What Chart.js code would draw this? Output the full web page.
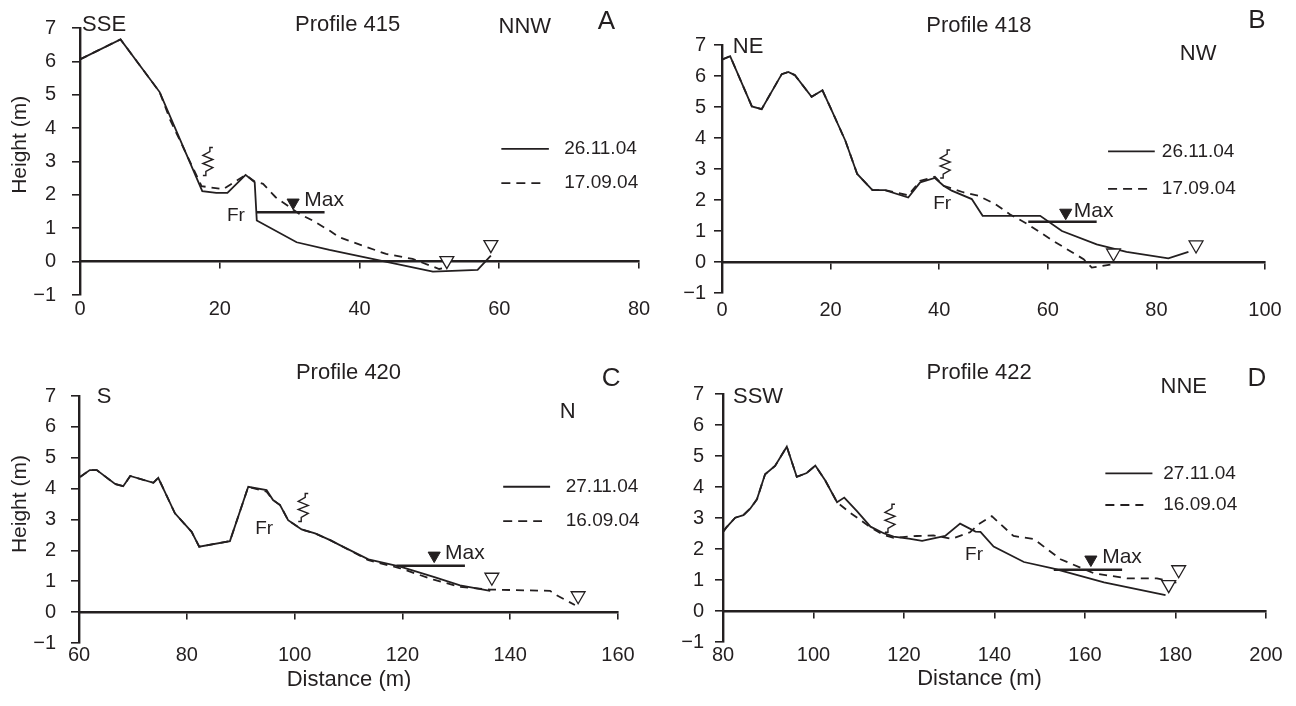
<!DOCTYPE html>
<html>
<head>
<meta charset="utf-8">
<script src="https://cdn.jsdelivr.net/npm/chart.js@4.4.1/dist/chart.umd.min.js"></script>
<style>
  body { margin: 0; background: #fff; width: 1296px; height: 706px; position: relative; overflow: hidden; }
  canvas { position: absolute; }
</style>
</head>
<body>
<canvas id="p415" width="660" height="340" style="left:0;top:0"></canvas>
<canvas id="p418" width="636" height="340" style="left:660px;top:0"></canvas>
<canvas id="p420" width="660" height="366" style="left:0;top:340px"></canvas>
<canvas id="p422" width="636" height="366" style="left:660px;top:340px"></canvas>
<script>
const INK = "#231f20";
const FONT = "'Liberation Sans', Arial, Helvetica, sans-serif";

// ---- Profile 415 ----
const p415Dates = ["26.11.04", "17.09.04"];
const p415DistNov = [0, 5.8, 11.4, 17.5, 19.5, 21.1, 23.7, 25.0, 25.3, 31.0, 35.7, 50.5, 56.9, 58.8];
const p415HNov = [6.06, 6.66, 5.08, 2.11, 2.06, 2.06, 2.60, 2.38, 1.23, 0.58, 0.35, -0.30, -0.25, 0.18];
const p415DistSep = [0, 5.8, 11.4, 12.9, 17.4, 20.5, 23.7, 25.0, 26.2, 28.0, 31.4, 33.3, 35.7, 37.1, 43.8, 47.6, 51.4, 52.6];
const p415HSep = [6.06, 6.66, 5.08, 4.25, 2.26, 2.17, 2.60, 2.40, 2.33, 1.93, 1.43, 1.23, 0.93, 0.73, 0.23, 0.08, -0.22, -0.17];
const p415MaxDist = [25.3, 35.0];
const p415MaxH = [1.48, 1.48];
const p415MaxMark = [30.5, 1.77];
const p415WaterDist = [52.5, 58.8];
const p415WaterH = [0.03, 0.51];

// ---- Profile 418 ----
const p418Dates = ["26.11.04", "17.09.04"];
const p418DistNov = [0, 1.5, 5.5, 7.3, 11.0, 12.2, 13.4, 16.5, 18.5, 20.2, 22.7, 24.9, 27.7, 30.0, 34.3, 36.5, 39.2, 40.8, 42.3, 46.0, 48.0, 58.6, 62.6, 69.0, 74.5, 82.2, 85.9];
const p418HNov = [6.53, 6.64, 5.02, 4.93, 6.06, 6.13, 6.03, 5.33, 5.54, 4.89, 3.92, 2.84, 2.32, 2.32, 2.08, 2.57, 2.71, 2.46, 2.30, 2.03, 1.49, 1.49, 1.00, 0.57, 0.33, 0.12, 0.33];
const p418DistSep = [0, 1.5, 5.5, 7.3, 11.0, 12.2, 13.4, 16.5, 18.5, 20.2, 22.7, 24.9, 27.7, 30.0, 34.3, 36.5, 39.2, 40.8, 44.4, 47.2, 50.3, 53.0, 56.1, 61.0, 66.6, 68.1, 72.1];
const p418HSep = [6.53, 6.64, 5.02, 4.93, 6.06, 6.13, 6.03, 5.33, 5.54, 4.89, 3.92, 2.84, 2.32, 2.32, 2.15, 2.62, 2.75, 2.46, 2.25, 2.14, 1.87, 1.54, 1.24, 0.68, 0.09, -0.18, -0.07];
const p418MaxDist = [56.4, 69.0];
const p418MaxH = [1.30, 1.30];
const p418MaxMark = [63.3, 1.59];
const p418WaterDist = [72.1, 87.3];
const p418WaterH = [0.29, 0.55];

// ---- Profile 420 ----
const p420Dates = ["27.11.04", "16.09.04"];
const p420DistNov = [60.2, 62.0, 63.3, 66.7, 68.2, 69.5, 73.8, 74.7, 77.8, 80.9, 82.3, 88.0, 91.4, 94.8, 96.0, 97.3, 98.8, 101.3, 103.8, 106.6, 108.4, 113.7, 119.6, 125.8, 130.7, 136.3];
const p420HNov = [4.38, 4.60, 4.60, 4.15, 4.08, 4.41, 4.19, 4.35, 3.20, 2.60, 2.12, 2.30, 4.06, 3.95, 3.63, 3.47, 2.98, 2.68, 2.55, 2.33, 2.17, 1.71, 1.47, 1.14, 0.87, 0.69];
const p420DistSep = [60.2, 62.0, 63.3, 66.7, 68.2, 69.5, 73.8, 74.7, 77.8, 80.9, 82.3, 88.0, 91.4, 94.8, 96.0, 97.3, 98.8, 101.3, 103.8, 106.6, 108.4, 113.7, 119.6, 125.8, 130.7, 136.3, 147.4, 148.6, 152.0];
const p420HSep = [4.38, 4.60, 4.60, 4.15, 4.08, 4.41, 4.19, 4.35, 3.20, 2.60, 2.12, 2.30, 4.06, 3.90, 3.63, 3.47, 2.98, 2.68, 2.55, 2.33, 2.17, 1.68, 1.42, 1.05, 0.82, 0.73, 0.69, 0.55, 0.23];
const p420MaxDist = [118.9, 131.6];
const p420MaxH = [1.50, 1.50];
const p420MaxMark = [125.9, 1.83];
const p420WaterDist = [136.6, 152.6];
const p420WaterH = [1.13, 0.53];

// ---- Profile 422 ----
const p422Dates = ["27.11.04", "16.09.04"];
const p422DistNov = [80, 80.7, 82.7, 84.5, 86.0, 87.5, 89.3, 91.5, 94.1, 96.3, 98.5, 100.4, 102.6, 105.2, 106.8, 109.6, 112.6, 115.5, 117.7, 121.4, 124.0, 129.1, 132.4, 135.8, 136.9, 139.8, 146.5, 153.1, 164.2, 177.8];
const p422HNov = [2.55, 2.69, 3.01, 3.09, 3.30, 3.60, 4.41, 4.68, 5.30, 4.33, 4.45, 4.69, 4.21, 3.51, 3.66, 3.22, 2.72, 2.51, 2.40, 2.33, 2.26, 2.42, 2.82, 2.56, 2.55, 2.08, 1.58, 1.37, 0.92, 0.51];
const p422DistSep = [80, 80.7, 82.7, 84.5, 86.0, 87.5, 89.3, 91.5, 94.1, 96.3, 98.5, 100.4, 102.6, 105.2, 108.1, 112.6, 115.5, 117.7, 122.8, 126.5, 130.6, 134.6, 136.5, 139.4, 144.2, 148.7, 154.6, 161.9, 169.3, 175.9, 180.7];
const p422HSep = [2.55, 2.69, 3.01, 3.09, 3.30, 3.60, 4.41, 4.68, 5.30, 4.33, 4.45, 4.69, 4.21, 3.51, 3.17, 2.70, 2.45, 2.36, 2.42, 2.44, 2.33, 2.54, 2.80, 3.06, 2.42, 2.32, 1.67, 1.22, 1.05, 1.05, 0.90];
const p422MaxDist = [153.1, 168.2];
const p422MaxH = [1.33, 1.33];
const p422MaxMark = [161.3, 1.66];
const p422WaterDist = [180.7, 178.5];
const p422WaterH = [1.33, 0.85];

const heightTicks = [-1, 0, 1, 2, 3, 4, 5, 6, 7];

function pts(xs, ys) {
  return xs.map((x, i) => ({ x: x, y: ys[i] }));
}

// text, legend and scarp symbol, placed in data units
const notesPlugin = {
  id: "notes",
  afterDraw(chart, args, opts) {
    const ctx = chart.ctx;
    const sx = chart.scales.x, sy = chart.scales.y;
    ctx.save();
    ctx.fillStyle = INK;
    ctx.strokeStyle = INK;
    ctx.textBaseline = "middle";
    (opts.texts || []).forEach(t => {
      ctx.font = t.size + "px " + FONT;
      ctx.textAlign = t.align || "left";
      const px = sx.getPixelForValue(t.d), py = sy.getPixelForValue(t.h);
      if (t.rotate) {
        ctx.save();
        ctx.translate(px, py);
        ctx.rotate(t.rotate * Math.PI / 180);
        ctx.fillText(t.text, 0, 0);
        ctx.restore();
      } else {
        ctx.fillText(t.text, px, py);
      }
    });
    (opts.legend || []).forEach(l => {
      const y = sy.getPixelForValue(l.h);
      ctx.lineWidth = 1.8;
      ctx.setLineDash(l.dash || []);
      ctx.beginPath();
      ctx.moveTo(sx.getPixelForValue(l.d0), y);
      ctx.lineTo(sx.getPixelForValue(l.d1), y);
      ctx.stroke();
      ctx.setLineDash([]);
      ctx.font = "19px " + FONT;
      ctx.textAlign = "left";
      ctx.fillText(l.text, sx.getPixelForValue(l.td), y);
    });
    if (opts.scarp) {
      const cx = sx.getPixelForValue(opts.scarp[0]), cy = sy.getPixelForValue(opts.scarp[1]);
      ctx.lineWidth = 1.4;
      ctx.beginPath();
      ctx.moveTo(cx + 5, cy - 14);
      ctx.lineTo(cx + 2, cy - 14);
      ctx.lineTo(cx + 2, cy - 10);
      ctx.lineTo(cx - 5, cy - 6);
      ctx.lineTo(cx + 5, cy - 2);
      ctx.lineTo(cx - 5, cy + 2);
      ctx.lineTo(cx + 5, cy + 6);
      ctx.lineTo(cx - 2, cy + 10);
      ctx.lineTo(cx - 2, cy + 14);
      ctx.lineTo(cx - 5, cy + 14);
      ctx.stroke();
    }
    ctx.restore();
  }
};

function makePanel(p) {
  return new Chart(document.getElementById(p.id), {
    type: "scatter",
    data: {
      datasets: [
        { label: p.dates[0], data: pts(p.dNov, p.hNov), showLine: true, borderColor: INK, borderWidth: 1.8, pointRadius: 0, order: 1 },
        { label: p.dates[1], data: pts(p.dSep, p.hSep), showLine: true, borderColor: INK, borderWidth: 1.8, borderDash: [8, 6], pointRadius: 0, order: 2 },
        { label: "Max", data: pts(p.maxD, p.maxH), showLine: true, borderColor: INK, borderWidth: 2.4, pointRadius: 0, order: 0 },
        { label: "Max mark", data: [{ x: p.maxMark[0], y: p.maxMark[1] }], pointStyle: "triangle", pointRotation: 180, pointRadius: 7, backgroundColor: INK, borderColor: INK, borderWidth: 1, order: 0 },
        { label: "Water line", data: pts(p.waterD, p.waterH), pointStyle: "triangle", pointRotation: 180, pointRadius: 8, backgroundColor: "#fff", borderColor: INK, borderWidth: 1.3, order: 0 }
      ]
    },
    options: {
      responsive: false,
      animation: false,
      clip: false,
      layout: { padding: p.pad },
      plugins: {
        legend: { display: false },
        tooltip: { enabled: false },
        notes: { texts: p.texts, legend: p.legend, scarp: p.scarp }
      },
      scales: {
        x: {
          type: "linear", position: "bottom", min: p.xMin, max: p.xMax,
          afterFit: s => { s.height = p.xHeight; },
          grid: { display: false, drawTicks: false },
          border: { display: false },
          ticks: { stepSize: 20, padding: p.xTickPad, color: INK, font: { size: 20 } }
        },
        x0: {
          axis: "x", type: "linear", position: { y: 0 }, min: p.xMin, max: p.xMax,
          afterFit: s => { s.height = 0; },
          ticks: { display: false, stepSize: 20 },
          grid: { drawOnChartArea: false, tickLength: 6, color: INK, lineWidth: 1.6 },
          border: { color: INK, width: 2.4 }
        },
        y: {
          type: "linear", position: "left", min: -1, max: 7,
          afterFit: s => { s.width = p.yWidth; },
          afterBuildTicks: s => { s.ticks = heightTicks.map(v => ({ value: v })); },
          grid: { drawOnChartArea: false, tickLength: 8, color: INK, lineWidth: 1.6 },
          border: { color: INK, width: 2.4 },
          ticks: {
            padding: p.yTickPad, color: INK, font: { size: 20 },
            callback: v => String(v).replace("-", "\u2212")
          }
        }
      }
    },
    plugins: [notesPlugin]
  });
}

makePanel({
  id: "p415", dates: p415Dates,
  dNov: p415DistNov, hNov: p415HNov, dSep: p415DistSep, hSep: p415HSep,
  maxD: p415MaxDist, maxH: p415MaxH, maxMark: p415MaxMark,
  waterD: p415WaterDist, waterH: p415WaterH,
  xMin: 0, xMax: 80,
  pad: { left: 0, top: 28, right: 21, bottom: 0 },
  yWidth: 80, xHeight: 45, yTickPad: 16, xTickPad: 2,
  texts: [
    { text: "Profile 415", d: 38.3, h: 7.09, size: 22, align: "center" },
    { text: "SSE", d: 0.3, h: 7.09, size: 22 },
    { text: "NNW", d: 59.9, h: 7.03, size: 22 },
    { text: "A", d: 74.1, h: 7.18, size: 26 },
    { text: "Max", d: 32.1, h: 1.83, size: 21 },
    { text: "Fr", d: 23.6, h: 1.38, size: 19, align: "right" },
    { text: "Height (m)", d: -8.57, h: 3.5, size: 21, align: "center", rotate: -90 }
  ],
  legend: [
    { text: p415Dates[0], d0: 60.3, d1: 67.1, h: 3.38, td: 69.3 },
    { text: p415Dates[1], d0: 60.3, d1: 66.0, h: 2.35, td: 69.3, dash: [9, 6] }
  ],
  scarp: [18.3, 3.0]
});

makePanel({
  id: "p418", dates: p418Dates,
  dNov: p418DistNov, hNov: p418HNov, dSep: p418DistSep, hSep: p418HSep,
  maxD: p418MaxDist, maxH: p418MaxH, maxMark: p418MaxMark,
  waterD: p418WaterDist, waterH: p418WaterH,
  xMin: 0, xMax: 100,
  pad: { left: 0, top: 45, right: 31, bottom: 0 },
  yWidth: 62, xHeight: 47, yTickPad: 8, xTickPad: 5,
  texts: [
    { text: "Profile 418", d: 47.3, h: 7.62, size: 22, align: "center" },
    { text: "NE", d: 2.0, h: 6.93, size: 22 },
    { text: "NW", d: 84.3, h: 6.71, size: 22 },
    { text: "B", d: 96.9, h: 7.78, size: 26 },
    { text: "Max", d: 64.8, h: 1.65, size: 21 },
    { text: "Fr", d: 38.9, h: 1.88, size: 19 }
  ],
  legend: [
    { text: p418Dates[0], d0: 71.1, d1: 79.7, h: 3.57, td: 81.0 },
    { text: p418Dates[1], d0: 71.1, d1: 78.3, h: 2.36, td: 81.0, dash: [9, 6] }
  ],
  scarp: [41.1, 3.16]
});

makePanel({
  id: "p420", dates: p420Dates,
  dNov: p420DistNov, hNov: p420HNov, dSep: p420DistSep, hSep: p420HSep,
  maxD: p420MaxDist, maxH: p420MaxH, maxMark: p420MaxMark,
  waterD: p420WaterDist, waterH: p420WaterH,
  xMin: 60, xMax: 160,
  pad: { left: 0, top: 56, right: 42, bottom: 0 },
  yWidth: 79, xHeight: 63, yTickPad: 15, xTickPad: 0,
  texts: [
    { text: "Profile 420", d: 110, h: 7.74, size: 22, align: "center" },
    { text: "S", d: 63.3, h: 6.97, size: 22 },
    { text: "N", d: 149.2, h: 6.48, size: 22 },
    { text: "C", d: 157, h: 7.55, size: 26 },
    { text: "Max", d: 127.9, h: 1.91, size: 21 },
    { text: "Fr", d: 92.7, h: 2.69, size: 19 },
    { text: "Height (m)", d: 49.05, h: 3.5, size: 21, align: "center", rotate: -90 },
    { text: "Distance (m)", d: 110.1, h: -2.2, size: 22, align: "center" }
  ],
  legend: [
    { text: p420Dates[0], d0: 138.7, d1: 147.4, h: 4.06, td: 150.3 },
    { text: p420Dates[1], d0: 138.7, d1: 145.9, h: 2.95, td: 150.3, dash: [9, 6] }
  ],
  scarp: [101.6, 3.39]
});

makePanel({
  id: "p422", dates: p422Dates,
  dNov: p422DistNov, hNov: p422HNov, dSep: p422DistSep, hSep: p422HSep,
  maxD: p422MaxDist, maxH: p422MaxH, maxMark: p422MaxMark,
  waterD: p422WaterDist, waterH: p422WaterH,
  xMin: 80, xMax: 200,
  pad: { left: 0, top: 54, right: 30, bottom: 0 },
  yWidth: 63, xHeight: 64, yTickPad: 11, xTickPad: 1,
  texts: [
    { text: "Profile 422", d: 136.6, h: 7.68, size: 22, align: "center" },
    { text: "SSW", d: 82.2, h: 6.91, size: 22 },
    { text: "NNE", d: 176.7, h: 7.23, size: 22 },
    { text: "D", d: 195.9, h: 7.49, size: 26 },
    { text: "Max", d: 163.8, h: 1.74, size: 21 },
    { text: "Fr", d: 133.5, h: 1.83, size: 19 },
    { text: "Distance (m)", d: 136.7, h: -2.19, size: 22, align: "center" }
  ],
  legend: [
    { text: p422Dates[0], d0: 164.5, d1: 174.9, h: 4.44, td: 177.3 },
    { text: p422Dates[1], d0: 164.5, d1: 172.9, h: 3.42, td: 177.3, dash: [9, 6] }
  ],
  scarp: [116.9, 2.99]
});
</script>
</body>
</html>
